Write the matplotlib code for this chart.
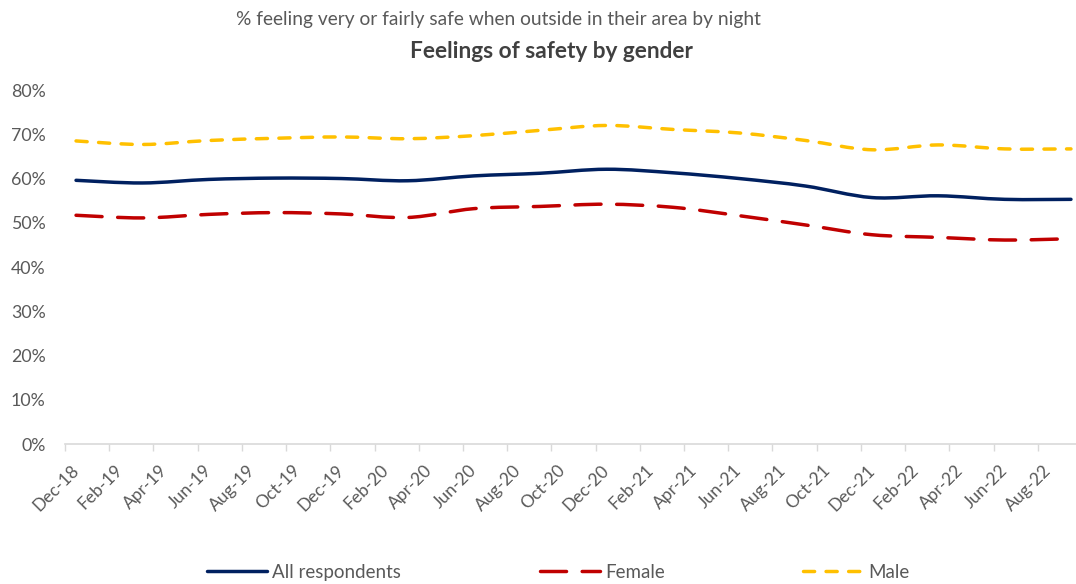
#!/usr/bin/env python3
"""Feelings of safety by gender - % feeling safe outside at night."""

import matplotlib

matplotlib.use("Agg")
import matplotlib.pyplot as plt
from matplotlib.lines import Line2D
from matplotlib.patches import PathPatch
from matplotlib.path import Path
from matplotlib.ticker import FixedLocator, PercentFormatter

plt.rcParams["font.family"] = ["Lato", "DejaVu Sans"]

# quarterly survey points (rolling), values in %
quarters = ["Dec-18", "Mar-19", "Jun-19", "Sep-19", "Dec-19", "Mar-20", "Jun-20", "Sep-20",
            "Dec-20", "Mar-21", "Jun-21", "Sep-21", "Dec-21", "Mar-22", "Jun-22", "Sep-22"]
all_respondents = [59.6, 59.0, 59.8, 60.1, 60.0, 59.5, 60.6, 61.2,
                   62.1, 61.3, 60.0, 58.3, 55.7, 56.1, 55.3, 55.3]
female = [51.7, 51.1, 51.9, 52.3, 52.0, 51.2, 53.2, 53.7,
          54.2, 53.5, 51.6, 49.5, 47.3, 46.7, 46.1, 46.4]
male = [68.5, 67.7, 68.6, 69.1, 69.4, 69.0, 69.7, 70.9,
        72.0, 71.1, 70.3, 68.6, 66.5, 67.6, 66.7, 66.7]

# axis runs monthly Dec-18 .. Sep-22, labelled every second month
first_month = "Dec-18"
last_month = "Sep-22"
tick_labels = ["Dec-18", "Feb-19", "Apr-19", "Jun-19", "Aug-19", "Oct-19", "Dec-19", "Feb-20",
               "Apr-20", "Jun-20", "Aug-20", "Oct-20", "Dec-20", "Feb-21", "Apr-21", "Jun-21",
               "Aug-21", "Oct-21", "Dec-21", "Feb-22", "Apr-22", "Jun-22", "Aug-22"]

MONTHS = ["Jan", "Feb", "Mar", "Apr", "May", "Jun", "Jul", "Aug", "Sep", "Oct", "Nov", "Dec"]


def month_pos(label):
    mon, yy = label.split("-")
    return int(yy) * 12 + MONTHS.index(mon) - month_pos_base


month_pos_base = 0
month_pos_base = month_pos(first_month)

TEXT = "#595959"


def smooth_path(xs, ys):
    # Excel style smoothed line: cubic bezier through every point
    n = len(xs)
    verts = [(xs[0], ys[0])]
    codes = [Path.MOVETO]
    for i in range(n - 1):
        a = max(i - 1, 0)
        d = min(i + 2, n - 1)
        c1 = (xs[i] + (xs[i + 1] - xs[a]) / 6, ys[i] + (ys[i + 1] - ys[a]) / 6)
        c2 = (xs[i + 1] - (xs[d] - xs[i]) / 6, ys[i + 1] - (ys[d] - ys[i]) / 6)
        verts += [c1, c2, (xs[i + 1], ys[i + 1])]
        codes += [Path.CURVE4] * 3
    return Path(verts, codes)


fig = plt.figure(figsize=(10.76, 5.84), dpi=100)
ax = fig.add_axes([0.0604, 0.2397, 0.9452, 0.6061])

xs = [month_pos(q) for q in quarters]
series = [
    ("All respondents", all_respondents, "#002060", "solid"),
    ("Female", female, "#C00000", (0, (7.5, 4.5))),
    ("Male", male, "#FFC000", (0, (3.2, 3.3))),
]
handles = []
for name, vals, color, ls in series:
    patch = PathPatch(smooth_path(xs, vals), fill=False, edgecolor=color, linewidth=2.5,
                      linestyle=ls, capstyle="round", joinstyle="round")
    ax.add_patch(patch)
    handles.append(Line2D([], [], color=color, linewidth=2.5, linestyle=ls,
                          dash_capstyle="round", solid_capstyle="round", label=name))

ax.set_xlim(-0.5, month_pos(last_month) + 0.5)
ax.set_ylim(0, 80)
ax.yaxis.set_major_locator(FixedLocator(range(0, 81, 10)))
ax.yaxis.set_major_formatter(PercentFormatter(100, decimals=0))

label_pos = [month_pos(t) for t in tick_labels]
ax.set_xticks(label_pos)
ax.set_xticklabels(tick_labels, rotation=45, ha="right", va="center", rotation_mode="anchor")
ax.set_xticks([p - 0.5 for p in label_pos], minor=True)
ax.tick_params(axis="x", which="major", length=0, pad=17, labelsize=12.5, labelcolor=TEXT)
ax.tick_params(axis="x", which="minor", length=5, width=1, color="#D9D9D9")
ax.tick_params(axis="y", length=0, pad=14, labelsize=12.8, labelcolor=TEXT)

for side in ("top", "right", "left"):
    ax.spines[side].set_visible(False)
ax.spines["bottom"].set_color("#D9D9D9")
ax.spines["bottom"].set_linewidth(1.2)

fig.text(0.4628, 0.9658, "% feeling very or fairly safe when outside in their area by night",
         ha="center", va="center", fontsize=13.8, color=TEXT)
fig.text(0.5125, 0.911, "Feelings of safety by gender", ha="center", va="center",
         fontsize=16.3, fontweight="bold", color="#404040")

fig.legend(handles=handles, loc="center", bbox_to_anchor=(0.519, 0.02), ncol=3, frameon=False,
           fontsize=13.5, handlelength=3.2, handletextpad=0.27, columnspacing=7.4,
           labelcolor=TEXT)

fig.savefig("out.png", dpi=100)
